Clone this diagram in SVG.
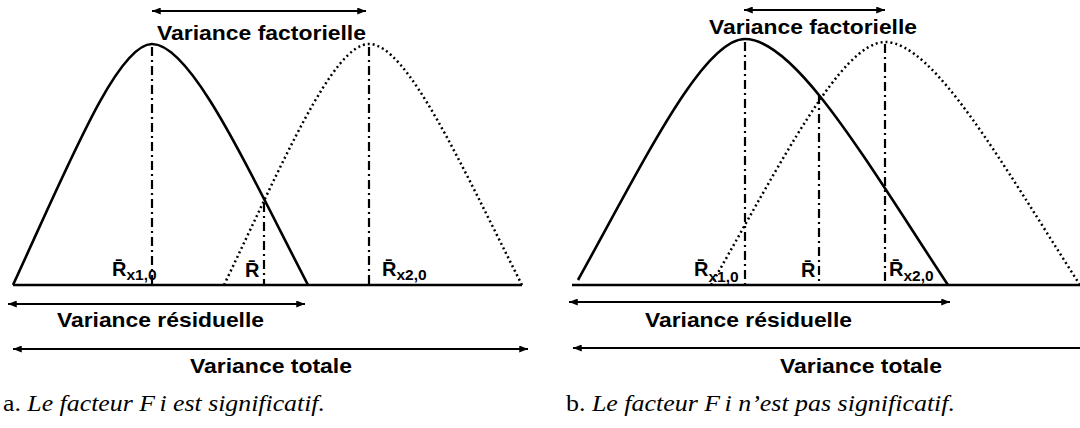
<svg xmlns="http://www.w3.org/2000/svg" width="1080" height="428" viewBox="0 0 1080 428">
<style>
.solid{fill:none;stroke:#000;stroke-width:2.6}
.dot{fill:none;stroke:#000;stroke-width:2.5;stroke-dasharray:2 3}
.dd{fill:none;stroke:#000;stroke-width:2.2;stroke-dasharray:9 4 2 4}
.base{stroke:#000;stroke-width:2.6}
.arr{stroke:#000;stroke-width:2;marker-start:url(#ah);marker-end:url(#ah)}
.arrL{stroke:#000;stroke-width:2;marker-start:url(#ah)}
.lbl{font-family:"Liberation Sans",Arial,sans-serif;font-weight:bold;font-size:21px;fill:#000}
.rl{font-family:"Liberation Sans",Arial,sans-serif;font-weight:bold;font-size:20px;fill:#000}
.sub{font-size:15.5px}
.cap{font-family:"Liberation Serif","Times New Roman",serif;font-size:23px;fill:#000}
</style>
<defs>
<marker id="ah" viewBox="0 0 10 8" refX="10" refY="4" markerWidth="9" markerHeight="7" markerUnits="userSpaceOnUse" orient="auto-start-reverse">
<path d="M0,0 L10,4 L0,8 z" fill="#000"/>
</marker>
</defs>
<rect width="1080" height="428" fill="#fff"/>

<g id="panel-a">
<g id="a-baseline"><line class="base" x1="13" y1="285" x2="522" y2="285"/></g>
<g id="a-curve1"><path class="solid" d="M13,285 C68.6,164.5 117.25,44 152,44 C191,44 245.6,164.5 308,285"/></g>
<g id="a-curve2"><path class="dot" d="M224,285 C282,164.5 332.75,44 369,44 C407.25,44 460.8,164.5 522,285"/></g>
<g id="a-means">
<line class="dd" x1="152" y1="47" x2="152" y2="284"/>
<line class="dd" x1="369" y1="47" x2="369" y2="284"/>
<line class="dd" x1="264" y1="203" x2="264" y2="284"/>
</g>
<g id="a-label-rx1"><text class="rl" x="112" y="276">R̄<tspan class="sub" dy="4">x1,0</tspan></text></g>
<g id="a-label-r"><text class="rl" x="245" y="277">R̄</text></g>
<g id="a-label-rx2"><text class="rl" x="382" y="276">R̄<tspan class="sub" dy="4">x2,0</tspan></text></g>
<g id="a-text-fact"><text class="lbl" x="157" y="40" textLength="209" lengthAdjust="spacingAndGlyphs">Variance factorielle</text></g>
<g id="a-text-res"><text class="lbl" x="57" y="327" textLength="207" lengthAdjust="spacingAndGlyphs">Variance résiduelle</text></g>
<g id="a-text-tot"><text class="lbl" x="190" y="373" textLength="162" lengthAdjust="spacingAndGlyphs">Variance totale</text></g>
<g id="a-caption"><text class="cap" x="3" y="411" textLength="322" lengthAdjust="spacingAndGlyphs">a. <tspan font-style="italic">Le facteur F<tspan dx="4">i</tspan> est significatif.</tspan></text></g>
</g>

<g id="panel-b">
<g id="b-baseline"><line class="base" x1="572" y1="285" x2="1080" y2="285"/></g>
<g id="b-curve1"><path class="solid" d="M578,280 C644.8,159.5 703.25,39 745,39 C795.75,39 866.8,162 948,285"/></g>
<g id="b-curve2"><path class="dot" d="M711,285 C780.6,163.5 841.5,42 885,42 C933.75,42 1002,163.5 1080,285"/></g>
<g id="b-means">
<line class="dd" x1="745" y1="42" x2="745" y2="284"/>
<line class="dd" x1="819" y1="95" x2="819" y2="284"/>
<line class="dd" x1="885" y1="44" x2="885" y2="284"/>
</g>
<g id="b-label-rx1"><text class="rl" x="694" y="276">R̄<tspan class="sub" dy="6">x1,0</tspan></text></g>
<g id="b-label-r"><text class="rl" x="801" y="277">R̄</text></g>
<g id="b-label-rx2"><text class="rl" x="889" y="276">R̄<tspan class="sub" dy="5">x2,0</tspan></text></g>
<g id="b-text-fact"><text class="lbl" x="709" y="34" textLength="208" lengthAdjust="spacingAndGlyphs">Variance factorielle</text></g>
<g id="b-text-res"><text class="lbl" x="645" y="327" textLength="207" lengthAdjust="spacingAndGlyphs">Variance résiduelle</text></g>
<g id="b-text-tot"><text class="lbl" x="780" y="373" textLength="162" lengthAdjust="spacingAndGlyphs">Variance totale</text></g>
<g id="b-caption"><text class="cap" x="566" y="411" textLength="389" lengthAdjust="spacingAndGlyphs">b. <tspan font-style="italic">Le facteur F<tspan dx="4">i</tspan> n’est pas significatif.</tspan></text></g>
</g>

<g id="connectors">
<line class="arr" x1="152" y1="11" x2="366" y2="11"/>
<line class="arr" x1="8" y1="304" x2="305" y2="304"/>
<line class="arr" x1="13" y1="349" x2="528" y2="349"/>
<line class="arr" x1="744" y1="10" x2="885" y2="10"/>
<line class="arr" x1="569" y1="302" x2="950" y2="302"/>
<line class="arrL" x1="573" y1="348" x2="1080" y2="348"/>
</g>
</svg>
